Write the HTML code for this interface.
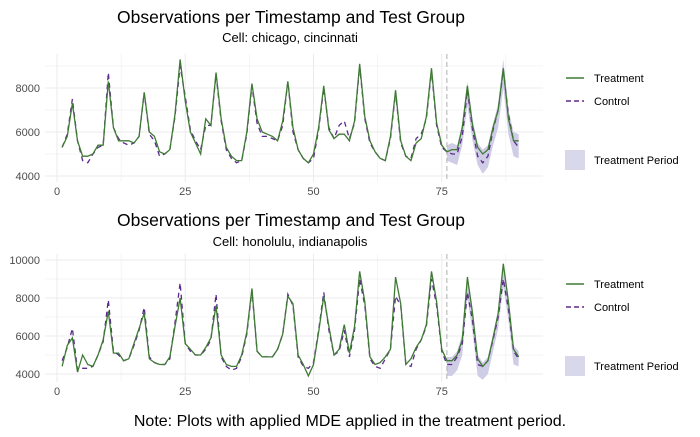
<!DOCTYPE html>
<html><head><meta charset="utf-8"><style>
body{margin:0;background:#fff;font-family:"Liberation Sans",sans-serif;}
svg text{font-family:"Liberation Sans",sans-serif;}
</style></head><body>
<svg id="c" width="700" height="432">
<text x="291" y="23" font-size="17.5" text-anchor="middle">Observations per Timestamp and Test Group</text>
<text x="290" y="42" font-size="13" text-anchor="middle">Cell: chicago, cincinnati</text>
<text x="291" y="226" font-size="17.5" text-anchor="middle">Observations per Timestamp and Test Group</text>
<text x="290" y="246" font-size="13" text-anchor="middle">Cell: honolulu, indianapolis</text>
<text x="350" y="426" font-size="16" text-anchor="middle">Note: Plots with applied MDE applied in the treatment period.</text>
</svg>
<script>
const xTicks=[0,25,50,75];
const topTicks=[4000,6000,8000];
const botTicks=[4000,6000,8000,10000];
const topTreatment=[5300,5800,7300,5600,4900,4900,5000,5400,5400,8300,6200,5600,5600,5600,5500,5800,7800,6000,5800,5100,5000,5200,6800,9300,7400,6000,5500,5000,6600,6300,8700,6600,5300,4900,4700,4700,6000,8200,6600,6000,5900,5800,5600,6500,8300,6200,5200,4800,4600,5000,6200,8100,6100,5700,5900,5900,5600,6500,9100,6700,5600,5100,4800,4700,5800,7900,5600,4900,4700,5500,5700,6700,8900,6400,5400,5100,5200,5200,6200,8100,6300,5300,5000,5200,6200,7000,8900,6600,5600,5600];
const topControl=[5300,5900,7500,5600,4700,4600,5000,5300,5400,8700,6200,5700,5500,5400,5500,5800,7800,5900,5600,4900,5000,5200,6700,9000,7600,6100,5600,5200,6300,6300,8600,6500,5200,4800,4600,4700,5900,8100,6400,5800,5800,5700,5600,6300,8300,6000,5200,4800,4600,4800,6100,8000,6200,5700,6300,6500,5700,6400,9000,6600,5500,5100,4800,4700,5700,7800,5500,4900,4800,5700,5900,6600,8800,6300,5300,5100,5000,5000,5800,7900,6100,4900,4600,4900,6100,7000,8800,6800,5600,5300];
const topLower=[4700,4600,4500,5400,7200,5600,4500,4100,4400,5400,6200,8000,5900,4900,4800];
const topUpper=[5400,5500,5400,6400,8300,6600,5500,5200,5400,6400,7300,9300,7000,6000,5900];
const botTreatment=[4400,5500,5900,4100,5000,4500,4400,5000,5800,7300,5100,5100,4700,4800,5600,6400,7200,4800,4600,4500,4500,4900,6500,8000,5600,5300,5000,5000,5400,5900,7600,5000,4500,4400,4400,5000,6200,8500,5200,4900,4900,4900,5300,6100,8100,7700,5000,4500,3900,4500,6200,8100,6500,5000,5300,6600,5100,6500,9400,7800,4900,4500,4600,4900,5300,9100,7700,4500,4800,5400,5800,6600,9400,7800,5300,4700,4700,5000,5800,9100,7200,4800,4400,4700,5900,7200,9800,7800,5300,4900];
const botControl=[4700,5400,6400,4200,4300,4300,4400,5000,5700,7900,5200,5000,4700,4800,5500,6300,7500,4900,4600,4500,4500,4800,6700,8800,5600,5200,5000,5000,5300,5800,8200,4900,4400,4200,4300,4900,6100,8400,5200,4900,4900,4900,5300,6100,8200,7600,4900,4400,4300,4600,6300,8300,6300,5000,5200,6300,4900,6300,9000,7600,4800,4400,4300,4800,5300,8100,7600,4500,4400,5300,5800,6500,9000,7600,5200,4500,4500,4900,5600,8300,6800,4500,4400,4700,5800,7000,9000,7400,5200,4800];
const botLower=[3900,3900,4200,5000,8000,6200,3900,3700,4000,5200,6400,8600,6800,4500,4400];
const botUpper=[4900,4900,5200,6100,9200,7500,5000,4600,4900,6100,7400,9900,8000,5500,5200];
const periodStart=76;

const svg=document.getElementById('c');const NS='http://www.w3.org/2000/svg';
function mk(t,a,name){const e=document.createElementNS(NS,t);for(const k in a)e.setAttribute(k,a[k]);


svg.appendChild(e);return e;}
function panel(p){
 const X=v=>57+v*5.13;
 const Y=v=>p.y0+(v-p.v0)*p.k;
 const L=45,R=543;
 for(let v=p.gmin;v<=p.gmax;v+=p.step/2){mk('line',{x1:L,x2:R,y1:Y(v),y2:Y(v),stroke:'#ebebeb','stroke-width':v%p.step===0?1:0.5},'grid-h');}
 for(let v=-12.5;v<=100;v+=12.5){const x=X(v);if(x<L||x>R)continue;mk('line',{x1:x,x2:x,y1:p.top,y2:p.bot,stroke:'#ebebeb','stroke-width':v%25===0?1:0.5},'grid-v');}
 p.ticks.forEach(v=>{const t=mk('text',{x:L-5,y:Y(v)+4,'font-size':11,fill:'#4d4d4d','text-anchor':'end'},'y-tick-label');t.textContent=v;});
 xTicks.forEach(v=>{const t=mk('text',{x:X(v),y:p.bot+13,'font-size':11,fill:'#4d4d4d','text-anchor':'middle'},'x-tick-label');t.textContent=v;});
 let d='';p.up.forEach((v,i)=>{d+=(i?'L':'M')+X(periodStart+i)+','+Y(v);});
 for(let i=p.lo.length-1;i>=0;i--)d+='L'+X(periodStart+i)+','+Y(p.lo[i]);
 mk('path',{d:d+'Z',fill:'#cfcce5'},'treatment-band');
 mk('line',{x1:X(periodStart),x2:X(periodStart),y1:p.top,y2:p.bot,stroke:'#b0b0b0','stroke-dasharray':'5,3'},'period-start-line');
 const pts=a=>a.map((v,i)=>X(i+1)+','+Y(v)).join(' ');
 mk('polyline',{points:pts(p.c),fill:'none',stroke:'#5b2a8c','stroke-width':1.3,'stroke-dasharray':'5,4'},'control-line');
 mk('polyline',{points:pts(p.t),fill:'none',stroke:'#3f7a35','stroke-width':1.3},'treatment-line');
 const ly=p.leg;
 mk('line',{x1:566,x2:584,y1:ly,y2:ly,stroke:'#3f7a35','stroke-width':1.5},'legend-treatment-key');
 let t=mk('text',{x:594,y:ly+4,'font-size':11},'legend-treatment');t.textContent='Treatment';
 mk('line',{x1:566,x2:584,y1:ly+23,y2:ly+23,stroke:'#5b2a8c','stroke-width':1.5,'stroke-dasharray':'5,3'},'legend-control-key');
 t=mk('text',{x:594,y:ly+27,'font-size':11},'legend-control');t.textContent='Control';
 mk('rect',{x:565,y:ly+72,width:20,height:20,fill:'#d9d7ea'},'legend-period-key');
 t=mk('text',{x:594,y:ly+86,'font-size':11},'legend-period');t.textContent='Treatment Period';
}
panel({y0:176,v0:4000,k:-0.022,gmin:4000,gmax:9000,step:2000,ticks:topTicks,top:54,bot:182,t:topTreatment,c:topControl,lo:topLower,up:topUpper,leg:78});
panel({y0:374,v0:4000,k:-0.019,gmin:4000,gmax:10000,step:2000,ticks:botTicks,top:254,bot:382,t:botTreatment,c:botControl,lo:botLower,up:botUpper,leg:284});
</script>
</body></html>
